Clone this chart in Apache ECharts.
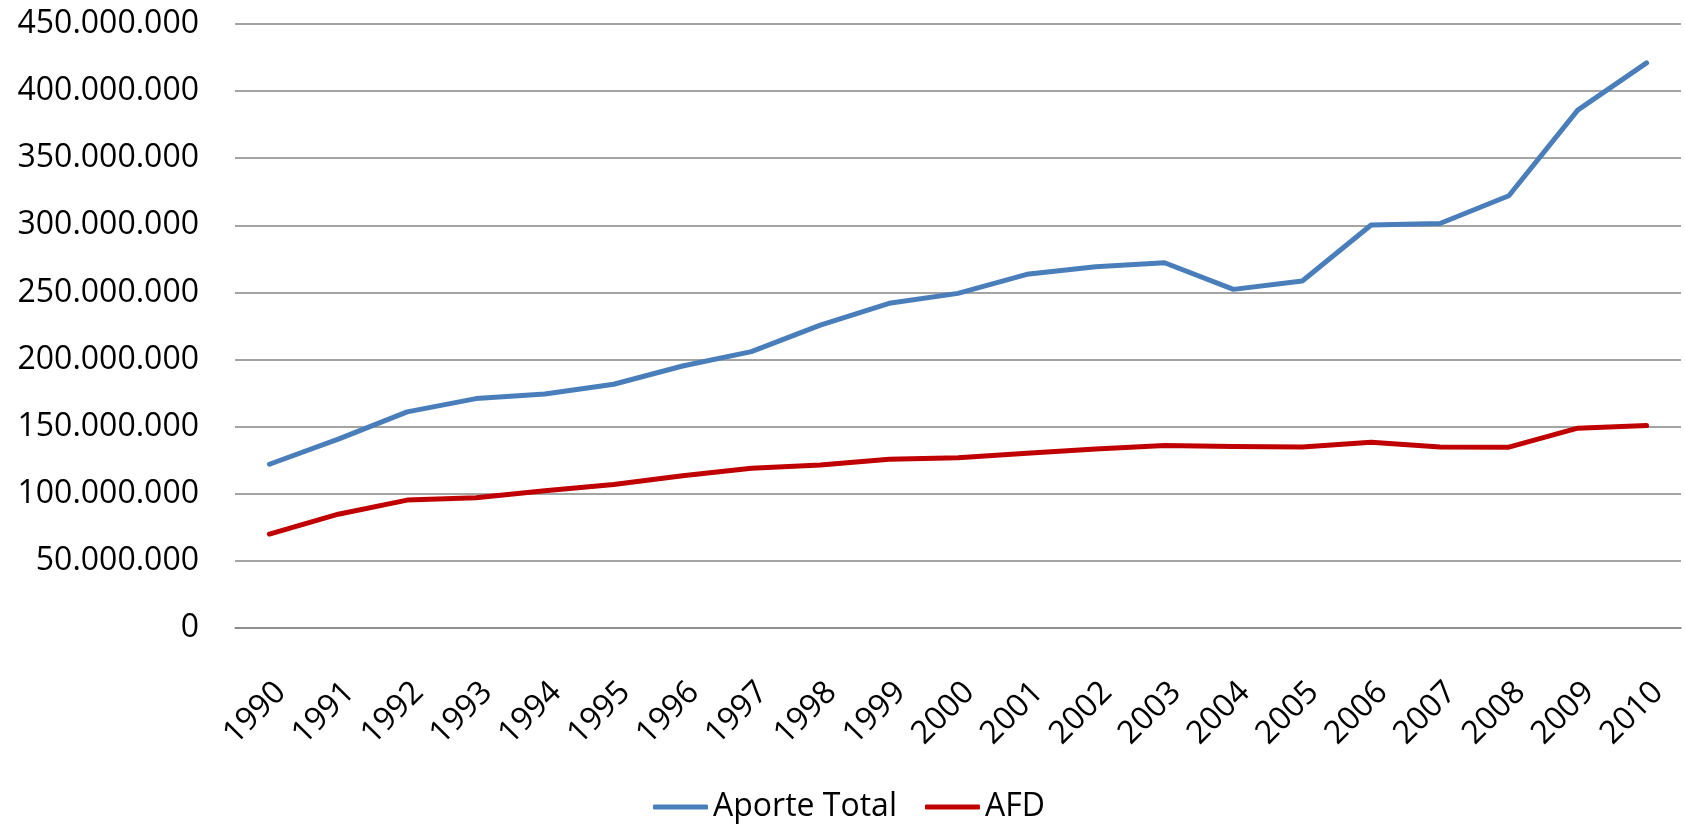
<!DOCTYPE html>
<html>
<head>
<meta charset="utf-8">
<script src="https://cdn.jsdelivr.net/npm/echarts@6/dist/echarts.min.js"></script>
<style>
html,body{margin:0;padding:0;background:#fff}
#chart{width:1685px;height:829px}
</style>
</head>
<body>
<div id="chart"></div>
<script>
var years = ['1990','1991','1992','1993','1994','1995','1996','1997','1998','1999','2000',
	'2001','2002','2003','2004','2005','2006','2007','2008','2009','2010'];
var aporteTotal = [122000000,140700000,161000000,170900000,174400000,181600000,195200000,205900000,
	225700000,241900000,249300000,263500000,269100000,272100000,252300000,258500000,
	300200000,301400000,322000000,385800000,421000000];
var afd = [70000000,84800000,95300000,97000000,102200000,106900000,113400000,119100000,
	121500000,125800000,126800000,130200000,133400000,135900000,135200000,134900000,
	138400000,134900000,134700000,148900000,150800000];
var seriesNames = ['Aporte Total','AFD'];

function fmt(v){
	return String(v).replace(/\B(?=(\d{3})+(?!\d))/g,'.');
}

var font = '"Open Sans", "Liberation Sans", sans-serif';
var myChart = echarts.init(document.getElementById('chart'));
myChart.setOption({
	animation:false,
	textStyle:{fontFamily:font},
	grid:{left:235,right:4,top:24,bottom:201},
	legend:{
		data:seriesNames,
		left:648,
		top:786,
		icon:'roundRect',
		itemWidth:55,
		itemHeight:5,
		itemGap:28,
		textStyle:{fontSize:32,color:'#000',fontFamily:font}
	},
	xAxis:{
		type:'category',
		data:years,
		axisLine:{lineStyle:{color:'#868686',width:1.5}},
		axisTick:{show:false},
		axisLabel:{rotate:45,margin:48,align:'right',verticalAlign:'top',fontSize:32,color:'#000',fontFamily:font,interval:0}
	},
	yAxis:{
		type:'value',
		min:0,
		max:450000000,
		interval:50000000,
		axisLine:{show:false},
		axisTick:{show:false},
		splitLine:{lineStyle:{color:'#868686',width:1.5}},
		axisLabel:{formatter:fmt,margin:36,fontSize:32,color:'#000',fontFamily:font}
	},
	series:[
		{name:seriesNames[0],type:'line',data:aporteTotal,symbol:'none',
			lineStyle:{color:'#4a7ebb',width:5,cap:'round',join:'round'},itemStyle:{color:'#4a7ebb'}},
		{name:seriesNames[1],type:'line',data:afd,symbol:'none',
			lineStyle:{color:'#c00000',width:5,cap:'round',join:'round'},itemStyle:{color:'#c00000'}}
	]
});
</script>
</body>
</html>
